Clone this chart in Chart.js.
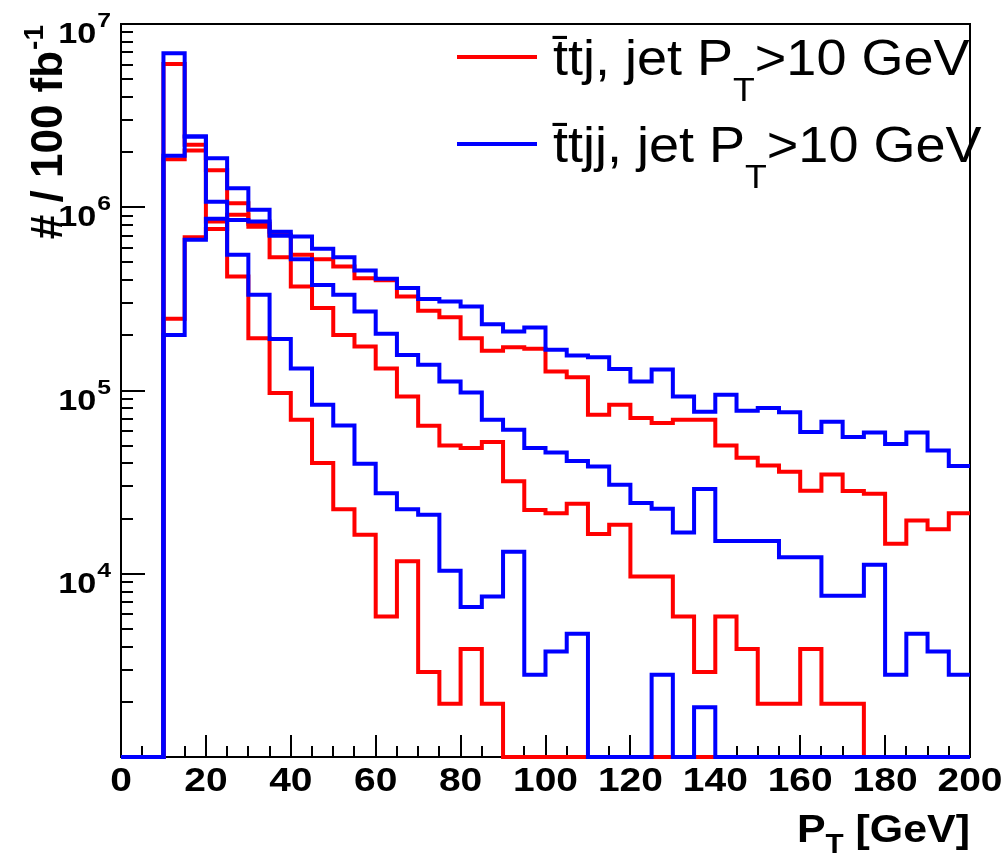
<!DOCTYPE html>
<html>
<head>
<meta charset="utf-8">
<script src="https://cdn.jsdelivr.net/npm/chart.js@4.4.1/dist/chart.umd.min.js"></script>
<style>
  html, body { margin: 0; padding: 0; background: #ffffff; }
  canvas { display: block; }
</style>
</head>
<body>
<canvas id="ptChart" width="1002" height="856"></canvas>
<script>
// jet pT spectra, 5 GeV bins from 0 to 200 GeV (entries per 100 fb^-1)
const ptLowEdges = [0, 5, 10, 15, 20, 25, 30, 35, 40, 45, 50, 55, 60, 65, 70, 75, 80, 85, 90, 95,
                    100, 105, 110, 115, 120, 125, 130, 135, 140, 145, 150, 155, 160, 165, 170, 175, 180, 185, 190, 195];
const binWidth = 5;

// ttj sample: 1st, 2nd, 3rd jet
const ttjJet1 = [0, 0, 2.46e5, 6.87e5, 7.62e5, 9.09e5, 8.12e5, 7.07e5, 5.50e5, 5.21e5, 4.75e5, 4.10e5, 3.99e5, 3.26e5,
                 2.72e5, 2.51e5, 1.93e5, 1.65e5, 1.72e5, 1.69e5, 1.27e5, 1.18e5, 7.37e4, 8.36e4, 7.07e4, 6.64e4, 6.92e4,
                 6.92e4, 5.01e4, 4.29e4, 3.90e4, 3.60e4, 2.84e4, 3.48e4, 2.83e4, 2.73e4, 1.46e4, 1.95e4, 1.75e4, 2.14e4];
const ttjJet2 = [0, 0, 1.83e6, 2.04e6, 1.59e6, 1.05e6, 7.82e5, 5.34e5, 3.69e5, 2.82e5, 2.01e5, 1.74e5, 1.32e5, 9.27e4,
                 6.42e4, 5.01e4, 4.85e4, 5.23e4, 3.20e4, 2.23e4, 2.14e4, 2.41e4, 1.65e4, 1.85e4, 9670, 9670, 5850,
                 2910, 5850, 3880, 1950, 1950, 3880, 1950, 1950, 0, 0, 0, 0, 0];
const ttjJet3 = [0, 0, 6.04e6, 2.19e6, 8.36e5, 4.19e5, 1.93e5, 9.68e4, 6.92e4, 4.02e4, 2.25e4, 1.63e4, 5850, 1.17e4,
                 2910, 1950, 3880, 1950, 0, 0, 0, 0, 0, 0, 0, 0, 0,
                 0, 0, 0, 0, 0, 0, 0, 0, 0, 0, 0, 0, 0];

// ttjj sample: 1st, 2nd, 3rd jet
const ttjjJet1 = [0, 0, 2.01e5, 6.64e5, 8.65e5, 8.53e5, 8.36e5, 7.34e5, 6.92e5, 5.93e5, 5.34e5, 4.52e5, 4.07e5, 3.62e5,
                  3.16e5, 3.06e5, 2.87e5, 2.30e5, 2.10e5, 2.21e5, 1.67e5, 1.55e5, 1.52e5, 1.31e5, 1.12e5, 1.30e5, 9.27e4,
                  7.65e4, 9.48e4, 7.75e4, 8.02e4, 7.62e4, 5.93e4, 6.75e4, 5.57e4, 5.90e4, 5.10e4, 5.90e4, 4.71e4, 3.87e4];
const ttjjJet2 = [0, 0, 1.91e6, 2.43e6, 1.85e6, 1.27e6, 9.68e5, 6.98e5, 5.21e5, 3.77e5, 3.33e5, 2.70e5, 2.04e5, 1.56e5,
                  1.38e5, 1.12e5, 9.75e4, 6.92e4, 6.11e4, 4.85e4, 4.59e4, 4.13e4, 3.85e4, 3.06e4, 2.43e4, 2.26e4, 1.68e4,
                  2.90e4, 1.51e4, 1.51e4, 1.51e4, 1.23e4, 1.23e4, 7590, 7590, 1.12e4, 2810, 4710, 3770, 2810];
const ttjjJet3 = [0, 0, 6.93e6, 2.43e6, 1.07e6, 5.50e5, 3.33e5, 1.91e5, 1.32e5, 8.36e4, 6.44e4, 3.98e4, 2.75e4, 2.25e4,
                  2.10e4, 1.04e4, 6580, 7520, 1.32e4, 2810, 3770, 4710, 0, 0, 0, 2810, 0,
                  1870, 0, 0, 0, 0, 0, 0, 0, 0, 0, 0, 0, 0];

// axis labels
const xTickValues = [0, 20, 40, 60, 80, 100, 120, 140, 160, 180, 200];
const yTickValues = [1e4, 1e5, 1e6, 1e7];
const yTickExp = ['4', '5', '6', '7'];
const legendText = ['t\u0304tj, jet P', 't\u0304tjj, jet P'];

const yMin = 1e3;
const yMax = 1e7;
const RED = '#ff0000';
const BLUE = '#0000ff';
const FONT = '"Liberation Sans", Arial, Helvetica, sans-serif';

// turn bin contents into a step outline; empty bins sit on the axis floor
function histPoints(values) {
  const pts = [];
  values.forEach(function (v, i) {
    const yv = v > yMin ? v : yMin;
    pts.push({ x: ptLowEdges[i], y: yv });
    pts.push({ x: ptLowEdges[i] + binWidth, y: yv });
  });
  return pts;
}

function histDataset(values, color) {
  return {
    data: histPoints(values),
    borderColor: color,
    borderWidth: 4,
    borderJoinStyle: 'miter',
    borderCapStyle: 'butt',
    pointRadius: 0,
    tension: 0,
    fill: false,
    clip: 4
  };
}

// text drawn a little wider than the plain font
function wideText(ctx, text, x, y, sx, align) {
  ctx.save();
  ctx.translate(x, y);
  ctx.scale(sx, 1);
  ctx.textAlign = align;
  ctx.fillText(text, 0, 0);
  ctx.restore();
}

// frame and inward ticks, drawn under the histograms
const rootFrame = {
  id: 'rootFrame',
  beforeDatasetsDraw(chart) {
    const ctx = chart.ctx;
    const a = chart.chartArea;
    const x = chart.scales.x;
    const y = chart.scales.y;
    ctx.save();
    ctx.strokeStyle = '#000';
    ctx.lineWidth = 2;
    ctx.strokeRect(a.left, a.top, a.right - a.left, a.bottom - a.top);

    ctx.beginPath();
    for (let e = 3; e < 7; e++) {
      for (let k = 1; k <= 9; k++) {
        const py = Math.round(y.getPixelForValue(k * Math.pow(10, e)));
        const len = k === 1 ? 24 : 12;
        ctx.moveTo(a.left, py);
        ctx.lineTo(a.left + len, py);
      }
    }
    const pTop = Math.round(y.getPixelForValue(1e7));
    ctx.moveTo(a.left, pTop);
    ctx.lineTo(a.left + 24, pTop);

    for (let v = 0; v <= 200; v += 5) {
      const px = Math.round(x.getPixelForValue(v));
      const len = v % 20 === 0 ? 22 : 11;
      ctx.moveTo(px, a.bottom);
      ctx.lineTo(px, a.bottom - len);
    }
    ctx.stroke();
    ctx.restore();
  },
  afterDraw(chart) {
    const ctx = chart.ctx;
    const a = chart.chartArea;
    const x = chart.scales.x;
    const y = chart.scales.y;
    ctx.save();
    ctx.fillStyle = '#000';
    ctx.textBaseline = 'alphabetic';

    // x tick labels
    ctx.font = 'bold 33px ' + FONT;
    xTickValues.forEach(function (v) {
      wideText(ctx, String(v), x.getPixelForValue(v), 791, 1.18, 'center');
    });

    // y tick labels, 10 with exponent
    const ySx = 1.18;
    yTickValues.forEach(function (v, i) {
      const py = y.getPixelForValue(v);
      ctx.font = 'bold 21px ' + FONT;
      const expW = ctx.measureText(yTickExp[i]).width * ySx;
      const right = 111;
      wideText(ctx, yTickExp[i], right - expW, py + 3, ySx, 'left');
      ctx.font = 'bold 29px ' + FONT;
      wideText(ctx, '10', right - expW - 1, py + 19, ySx, 'right');
    });

    // x title: P_T [GeV]
    const tSx = 1.1;
    ctx.font = 'bold 39px ' + FONT;
    const wP = ctx.measureText('P').width * tSx;
    const wRest = ctx.measureText(' [GeV]').width * tSx;
    ctx.font = 'bold 27px ' + FONT;
    const wT = ctx.measureText('T').width * tSx;
    const tx = a.right - (wP + wT + wRest);
    ctx.font = 'bold 39px ' + FONT;
    wideText(ctx, 'P', tx, 842, tSx, 'left');
    ctx.font = 'bold 27px ' + FONT;
    wideText(ctx, 'T', tx + wP, 853, tSx, 'left');
    ctx.font = 'bold 39px ' + FONT;
    wideText(ctx, ' [GeV]', tx + wP + wT, 842, tSx, 'left');

    // y title: # / 100 fb^-1, reading upwards, ending at the top of the frame
    ctx.save();
    ctx.translate(62, a.top + 1);
    ctx.rotate(-Math.PI / 2);
    ctx.font = 'bold 28px ' + FONT;
    const wSup = ctx.measureText('-1').width;
    ctx.textAlign = 'left';
    ctx.fillText('-1', -wSup, -19);
    ctx.font = 'bold 44px ' + FONT;
    ctx.textAlign = 'right';
    ctx.fillText('# / 100 fb', -wSup - 1, 0);
    ctx.restore();

    // legend
    const colors = [RED, BLUE];
    const rows = [57, 144];
    const lSx = 1.08;
    rows.forEach(function (ry, i) {
      ctx.strokeStyle = colors[i];
      ctx.lineWidth = 4;
      ctx.beginPath();
      ctx.moveTo(457, ry);
      ctx.lineTo(537, ry);
      ctx.stroke();
      const base = ry + 18;
      let lx = 553;
      ctx.font = '50px ' + FONT;
      wideText(ctx, legendText[i], lx, base, lSx, 'left');
      lx += ctx.measureText(legendText[i]).width * lSx;
      ctx.font = '33px ' + FONT;
      wideText(ctx, 'T', lx, base + 26, lSx, 'left');
      lx += ctx.measureText('T').width * lSx;
      ctx.font = '50px ' + FONT;
      wideText(ctx, '>10 GeV', lx, base, lSx, 'left');
    });
    ctx.restore();
  }
};

const ctx = document.getElementById('ptChart').getContext('2d');
const chart = new Chart(ctx, {
  type: 'line',
  data: {
    // blue first so it is drawn on top of red
    datasets: [
      histDataset(ttjjJet1, BLUE),
      histDataset(ttjjJet2, BLUE),
      histDataset(ttjjJet3, BLUE),
      histDataset(ttjJet1, RED),
      histDataset(ttjJet2, RED),
      histDataset(ttjJet3, RED)
    ]
  },
  options: {
    responsive: false,
    animation: false,
    events: [],
    layout: { padding: { left: 0, right: 32, top: 24, bottom: 0 } },
    plugins: {
      legend: { display: false },
      tooltip: { enabled: false }
    },
    scales: {
      x: {
        type: 'linear',
        min: 0,
        max: 200,
        grid: { display: false },
        border: { display: false },
        ticks: { display: false },
        afterFit: function (scale) { scale.height = 99; }
      },
      y: {
        type: 'logarithmic',
        min: yMin,
        max: yMax,
        grid: { display: false },
        border: { display: false },
        ticks: { display: false },
        afterFit: function (scale) { scale.width = 121; }
      }
    }
  },
  plugins: [rootFrame]
});
</script>
</body>
</html>
